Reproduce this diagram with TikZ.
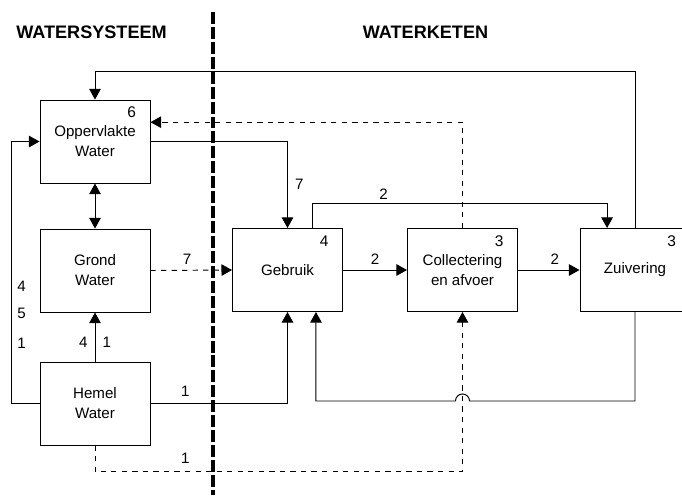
\documentclass[tikz,border=0pt]{standalone}
\usepackage{fontspec}
\setmainfont{Liberation Sans}
\usetikzlibrary{arrows.meta,calc}

\begin{document}
\begin{tikzpicture}[
  x=0.02cm,y=-0.02cm,
  box/.style={draw,line width=0.55pt,minimum width=2.2cm,minimum height=1.66cm,align=center,font=\fontsize{8.6}{11.3}\selectfont},
  num/.style={anchor=north east,inner sep=0pt,xshift=-8pt,yshift=-4pt,font=\fontsize{8.8}{10}\selectfont},
  lbl/.style={font=\fontsize{8.6}{10}\selectfont,inner sep=2pt},
  arr/.style={line width=0.55pt,-{Triangle[length=6pt,width=6.5pt]}},
  dbl/.style={line width=0.55pt,{Triangle[length=6pt,width=6.5pt]}-{Triangle[length=6pt,width=6.5pt]}},
  title/.style={font=\fontsize{10.3}{12}\selectfont\bfseries},
  divider/.style={line width=2.3pt,dash pattern=on 6.8pt off 1.7pt}
]
  \useasboundingbox (0,0) rectangle (682,495);

  \node[title] (ws) at (91.5,32)  {WATERSYSTEEM};
  \node[title] (wk) at (425.5,32) {WATERKETEN};
  \draw[divider] (213,12) -- (213,495);

  \node[box] (opp) at (95,141.5)  {Oppervlakte\\Water};
  \node[box] (grd) at (95,270.5)  {Grond\\Water};
  \node[box] (hem) at (95,403.5)  {Hemel\\Water};
  \node[box] (geb) at (287.5,270) {Gebruik};
  \node[box] (col) at (462.5,270) {Collectering\\en afvoer};
  \node[box] (zui) at (635,270)   {Zuivering};
  \node[num] at (opp.north east) {6};
  \node[num] at (geb.north east) {4};
  \node[num] at (col.north east) {3};
  \node[num] at (zui.north east) {3};

  \coordinate (gout) at ([xshift=14.5pt]geb.north);
  \coordinate (gin)  at ([xshift=16.2pt]geb.south);
  \coordinate (zin)  at ([xshift=-15.9pt]zui.north);
  \coordinate (hop)  at (col.south |- 0,401);

  % terugvoer naar oppervlaktewater
  \draw[arr] (zui.north) -- ++(0,-157) -| (opp.north);
  \draw[arr,dashed] (col.north) |- ([yshift=11pt]opp.east);

  \draw[arr] (opp.east) -| node[lbl,pos=0.75,right,xshift=2pt]{7} (geb.north);
  \draw[arr] (gout) -- ++(0,-25) -| node[lbl,pos=0.12,above]{2} (zin);
  \draw[dbl] (opp.south) -- (grd.north);
  \draw[arr,dashed] (grd.east) -- node[lbl,pos=0.45,above,yshift=1pt]{7} (geb.west);
  \draw[arr] (geb.east) -- node[lbl,above,yshift=1pt]{2} (col.west);
  \draw[arr] (col.east) -- node[lbl,pos=0.6,above,yshift=1pt]{2} (zui.west);

  \draw[arr] (hem.north) -- node[lbl,pos=0.4,left,xshift=-2pt]{4} node[lbl,pos=0.4,right,xshift=2pt]{1} (grd.south);
  \draw[arr] (hem.west) -- ++(-28,0) |- node[lbl,pos=0.115,right,xshift=1pt]{1}
    node[lbl,pos=0.172,right,xshift=1pt]{5} node[lbl,pos=0.223,right,xshift=1pt]{4} (opp.west);
  \draw[arr] (hem.east) -| node[lbl,pos=0.127,above,yshift=2pt]{1} (geb.south);
  \draw[arr] (zui.south) |- ([xshift=4pt]hop) arc[start angle=0,end angle=180,radius=4pt] -| (gin);
  \draw[arr,dashed] (hem.south) -- ++(0,26) -| node[lbl,pos=0.123,above,yshift=2pt]{1} (col.south);
\end{tikzpicture}
\end{document}
